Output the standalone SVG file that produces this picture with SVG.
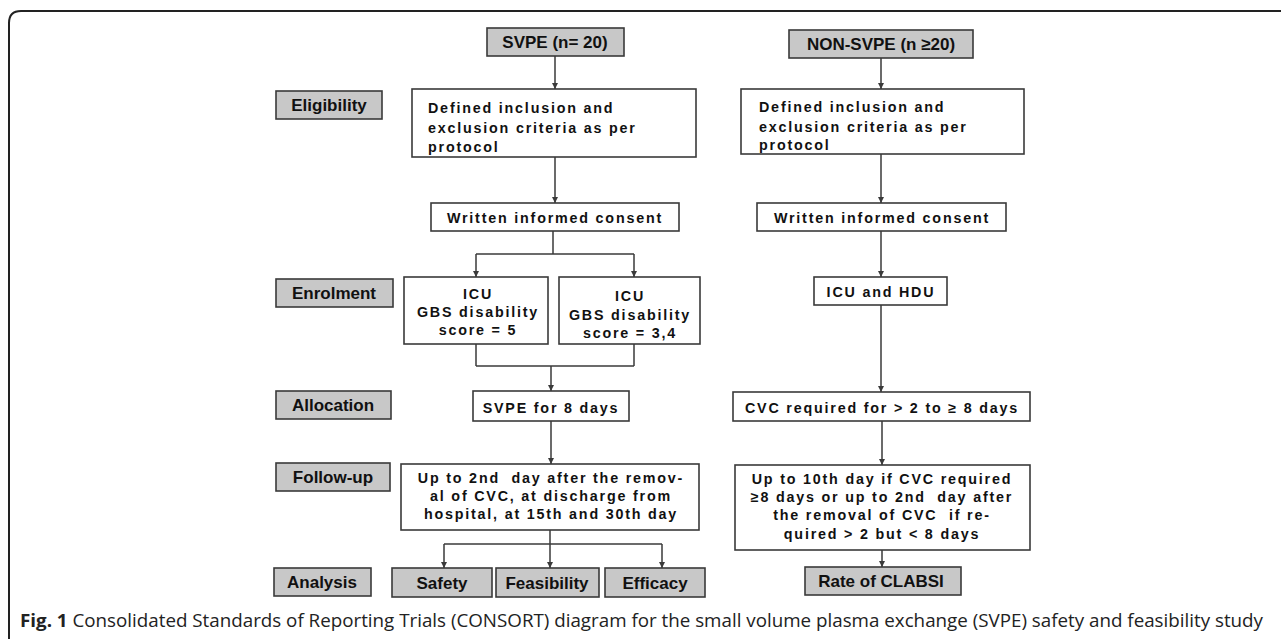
<svg xmlns="http://www.w3.org/2000/svg" width="1281" height="639" viewBox="0 0 1281 639">
<defs>
<marker id="ah" viewBox="0 0 6 6" refX="6" refY="3" markerWidth="6" markerHeight="6" markerUnits="userSpaceOnUse" orient="auto">
<path d="M0,0 L6,3 L0,6 z" fill="#3a3a3a"/>
</marker>
<style>
.box{fill:#fff;stroke:#3a3a3a;stroke-width:1.6}
.gbox{fill:#c8c8c8;stroke:#3a3a3a;stroke-width:1.6}
.lbl{font-family:"Liberation Sans",Arial,sans-serif;font-weight:bold;font-size:17px;fill:#111}
.t{font-family:"Liberation Sans",Arial,sans-serif;font-weight:bold;font-size:14.3px;letter-spacing:1.8px;fill:#111;white-space:pre}
.c{text-anchor:middle}
.ln{fill:none;stroke:#3a3a3a;stroke-width:1.5}
.arr{fill:none;stroke:#3a3a3a;stroke-width:1.5;marker-end:url(#ah)}
.cap{font-family:"Open Sans","Liberation Sans",sans-serif;font-size:18px;fill:#222}
</style>
</defs>
<rect width="1281" height="639" fill="#fff"/>
<path d="M9 639 V23 Q9 11 21 11 H1281" fill="none" stroke="#222" stroke-width="2"/>

<g id="connectors">
<line class="arr" x1="555" y1="56" x2="555" y2="89"/>
<line class="arr" x1="555" y1="157" x2="555" y2="203"/>
<line class="ln" x1="553" y1="231" x2="553" y2="254"/>
<line class="ln" x1="476" y1="254" x2="634" y2="254"/>
<line class="arr" x1="476" y1="254" x2="476" y2="277"/>
<line class="arr" x1="634" y1="254" x2="634" y2="277"/>
<line class="ln" x1="476" y1="344" x2="476" y2="366"/>
<line class="ln" x1="634" y1="344" x2="634" y2="366"/>
<line class="ln" x1="476" y1="366" x2="634" y2="366"/>
<line class="arr" x1="551" y1="366" x2="551" y2="391"/>
<line class="arr" x1="551" y1="421" x2="551" y2="464"/>
<line class="ln" x1="550" y1="530" x2="550" y2="544"/>
<line class="ln" x1="444" y1="544" x2="662" y2="544"/>
<line class="arr" x1="444" y1="544" x2="444" y2="568"/>
<line class="arr" x1="550" y1="544" x2="550" y2="568"/>
<line class="arr" x1="662" y1="544" x2="662" y2="568"/>
<line class="arr" x1="881" y1="58" x2="881" y2="89"/>
<line class="arr" x1="881" y1="154" x2="881" y2="203"/>
<line class="arr" x1="881" y1="231" x2="881" y2="277"/>
<line class="arr" x1="881" y1="305" x2="881" y2="392"/>
<line class="arr" x1="882" y1="421" x2="882" y2="465"/>
<line class="arr" x1="882" y1="550" x2="882" y2="567"/>
</g>

<g id="lbl-eligibility"><rect class="gbox" x="276" y="91" width="106" height="28"/><text class="lbl c" x="329" y="111">Eligibility</text></g>
<g id="lbl-enrolment"><rect class="gbox" x="276" y="279" width="117" height="28"/><text class="lbl c" x="334" y="299">Enrolment</text></g>
<g id="lbl-allocation"><rect class="gbox" x="276" y="391" width="115" height="28"/><text class="lbl c" x="333" y="411">Allocation</text></g>
<g id="lbl-followup"><rect class="gbox" x="276" y="463" width="114" height="28"/><text class="lbl c" x="333" y="483">Follow-up</text></g>
<g id="lbl-analysis"><rect class="gbox" x="274" y="568" width="97" height="28"/><text class="lbl c" x="322" y="588">Analysis</text></g>

<g id="svpe"><rect class="gbox" x="487" y="28" width="137" height="28"/><text class="lbl c" x="555" y="48">SVPE (n= 20)</text></g>
<g id="nonsvpe"><rect class="gbox" x="789" y="30" width="184" height="28"/><text class="lbl c" x="881" y="50">NON-SVPE (n ≥20)</text></g>

<g id="defined-left"><rect class="box" x="412" y="89" width="284" height="68"/>
<text class="t" x="428" y="113">Defined inclusion and</text>
<text class="t" x="428" y="133">exclusion criteria as per</text>
<text class="t" x="428" y="152">protocol</text></g>
<g id="defined-right"><rect class="box" x="741" y="89" width="283" height="65"/>
<text class="t" x="759" y="112">Defined inclusion and</text>
<text class="t" x="759" y="132">exclusion criteria as per</text>
<text class="t" x="759" y="150">protocol</text></g>

<g id="consent-left"><rect class="box" x="431" y="203" width="248" height="28"/><text class="t c" x="555" y="223">Written informed consent</text></g>
<g id="consent-right"><rect class="box" x="757" y="203" width="249" height="28"/><text class="t c" x="882" y="223">Written informed consent</text></g>

<g id="icu5"><rect class="box" x="404" y="277" width="144" height="67"/>
<text class="t c" x="478" y="299">ICU</text>
<text class="t c" x="478" y="317">GBS disability</text>
<text class="t c" x="478" y="335">score = 5</text></g>
<g id="icu34"><rect class="box" x="559" y="277" width="141" height="67"/>
<text class="t c" x="630" y="301">ICU</text>
<text class="t c" x="630" y="320">GBS disability</text>
<text class="t c" x="630" y="338">score = 3,4</text></g>
<g id="icuhdu"><rect class="box" x="814" y="277" width="133" height="28"/><text class="t c" x="881" y="297">ICU and HDU</text></g>

<g id="svpe8"><rect class="box" x="473" y="391" width="156" height="30"/><text class="t c" x="551" y="413">SVPE for 8 days</text></g>
<g id="cvc"><rect class="box" x="733" y="392" width="297" height="29"/><text class="t c" x="882" y="413">CVC required for &gt; 2 to ≥ 8 days</text></g>

<g id="followup-left"><rect class="box" x="401" y="464" width="298" height="66"/>
<text class="t c" x="551" y="483">Up to 2nd  day after the remov-</text>
<text class="t c" x="551" y="501">al of CVC, at discharge from</text>
<text class="t c" x="551" y="519">hospital, at 15th and 30th day</text></g>
<g id="followup-right"><rect class="box" x="735" y="465" width="295" height="85"/>
<text class="t c" x="882" y="484">Up to 10th day if CVC required</text>
<text class="t c" x="882" y="502">≥8 days or up to 2nd  day after</text>
<text class="t c" x="882" y="520">the removal of CVC  if re-</text>
<text class="t c" x="882" y="539">quired &gt; 2 but &lt; 8 days</text></g>

<g id="safety"><rect class="gbox" x="392" y="568" width="100" height="29"/><text class="lbl c" x="442" y="589">Safety</text></g>
<g id="feasibility"><rect class="gbox" x="496" y="568" width="103" height="29"/><text class="lbl c" x="547" y="589">Feasibility</text></g>
<g id="efficacy"><rect class="gbox" x="605" y="568" width="100" height="29"/><text class="lbl c" x="655" y="589">Efficacy</text></g>
<g id="clabsi"><rect class="gbox" x="805" y="567" width="156" height="28"/><text class="lbl c" x="881" y="587">Rate of CLABSI</text></g>

<text class="cap" x="20" y="627" textLength="1243" lengthAdjust="spacingAndGlyphs"><tspan font-weight="bold">Fig. 1</tspan> Consolidated Standards of Reporting Trials (CONSORT) diagram for the small volume plasma exchange (SVPE) safety and feasibility study</text>
</svg>
